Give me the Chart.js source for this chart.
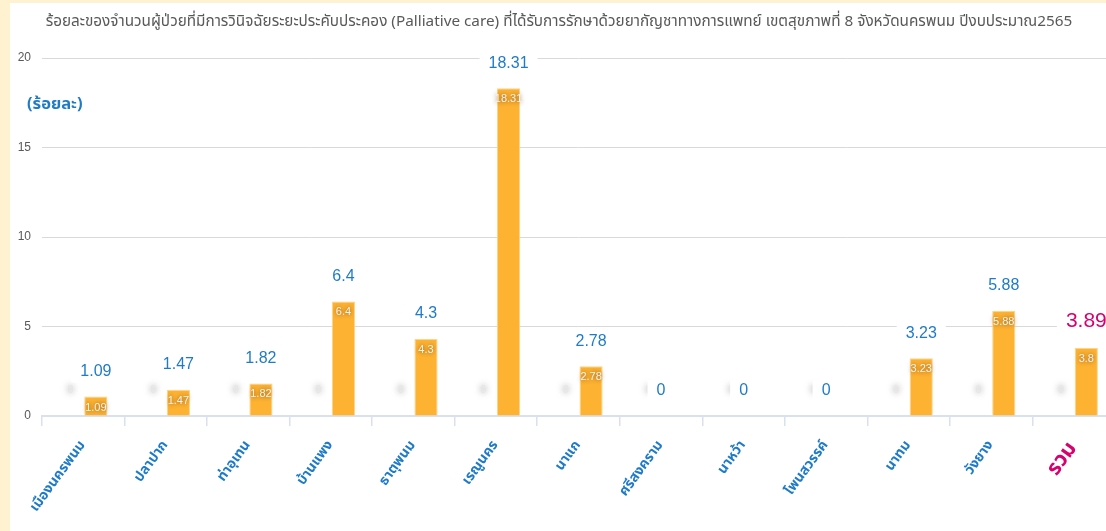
<!DOCTYPE html>
<html>
<head>
<meta charset="utf-8">
<script src="https://cdn.jsdelivr.net/npm/chart.js@4.4.1/dist/chart.umd.min.js"></script>
<style>
  html, body { margin: 0; padding: 0; width: 1106px; height: 531px; overflow: hidden; background: #FEF2D0; }
  #wrap { position: absolute; left: 10px; top: 3px; width: 1110px; height: 528px; background: #ffffff; }
  #unit { position: absolute; left: 17px; top: 88px; font: bold 16.5px 'Noto Sans Thai', 'Noto Sans', sans-serif; color: #1F7BC8; }
</style>
</head>
<body>
<div id="wrap"><canvas id="c"></canvas><div id="unit">(ร้อยละ)</div></div>
<script>
const titleText = 'ร้อยละของจำนวนผู้ป่วยที่มีการวินิจฉัยระยะประคับประคอง (Palliative care) ที่ได้รับการรักษาด้วยยากัญชาทางการแพทย์ เขตสุขภาพที่ 8 จังหวัดนครพนม ปีงบประมาณ2565';
const categories = ['เมืองนครพนม', 'ปลาปาก', 'ท่าอุเทน', 'บ้านแพง', 'ธาตุพนม', 'เรณูนคร', 'นาแก', 'ศรีสงคราม', 'นาหว้า', 'โพนสวรรค์', 'นาทม', 'วังยาง', 'รวม'];
const blankSeries = [0, 0, 0, 0, 0, 0, 0, 0, 0, 0, 0, 0, 0];
const barValues = [1.09, 1.47, 1.82, 6.4, 4.3, 18.31, 2.78, 0, 0, 0, 3.23, 5.88, 3.8];
const topLabels = [1.09, 1.47, 1.82, 6.4, 4.3, 18.31, 2.78, 0, 0, 0, 3.23, 5.88, 3.89];
const yTicks = [0, 5, 10, 15, 20];

const FONT = "'Noto Sans Thai', 'Noto Sans', sans-serif";
const NUMFONT = "'Liberation Sans Narrow', 'Liberation Sans', sans-serif";
const BLUE = '#1F7BC8';
const MAGENTA = '#D6006F';

const labelPlugin = {
  id: 'labels',
  afterDatasetsDraw(chart) {
    const ctx = chart.ctx;
    const x = chart.scales.x, y = chart.scales.y;
    const m0 = chart.getDatasetMeta(0), m1 = chart.getDatasetMeta(1);
    ctx.save();
    ctx.textAlign = 'center';
    ctx.textBaseline = 'middle';
    // grey zero labels of the empty series
    blankSeries.forEach((v, i) => {
      const bx = m0.data[i].x;
      const by = y.getPixelForValue(v) - 26;
      ctx.save();
      ctx.shadowColor = 'rgba(0,0,0,0.6)';
      ctx.shadowBlur = 6;
      ctx.fillStyle = '#e6e6e6';
      ctx.font = '11px ' + NUMFONT;
      ctx.fillText(String(v), bx, by);
      ctx.restore();
    });
    // labels inside bars
    barValues.forEach((v, i) => {
      if (v === 0) return;
      const el = m1.data[i];
      ctx.save();
      ctx.shadowColor = 'rgba(110,60,0,0.9)';
      ctx.shadowBlur = 4;
      ctx.fillStyle = '#f4f4f4';
      ctx.font = '11px ' + NUMFONT;
      ctx.fillText(String(v), el.x, el.y + 11);
      ctx.restore();
    });
    // top labels with white boxes
    topLabels.forEach((v, i) => {
      const last = i === topLabels.length - 1;
      const bx = v === 0 ? x.getPixelForValue(i) : m1.data[i].x;
      const by = y.getPixelForValue(v) - 25;
      ctx.font = (last ? '21px ' : '16px ') + NUMFONT;
      const w = ctx.measureText(String(v)).width;
      ctx.fillStyle = '#ffffff';
      ctx.fillRect(bx - w / 2 - 9, by - 11, w + 18, 22);
      ctx.fillStyle = last ? MAGENTA : BLUE;
      ctx.fillText(String(v), bx, by);
    });
    ctx.restore();
  }
};

const titlePlugin = {
  id: 'titleText',
  afterDraw(chart) {
    const ctx = chart.ctx;
    ctx.save();
    ctx.font = '15.3px ' + FONT;
    ctx.fillStyle = '#595959';
    ctx.textAlign = 'center';
    ctx.textBaseline = 'middle';
    ctx.fillText(titleText, 549, 20);
    ctx.restore();
  }
};

new Chart(document.getElementById('c'), {
  type: 'bar',
  data: {
    labels: categories,
    datasets: [
      { data: blankSeries, backgroundColor: '#A5A5A5', categoryPercentage: 0.61, barPercentage: 0.92 },
      { data: barValues, backgroundColor: '#FDB232', borderColor: '#FFD486', borderWidth: 1, categoryPercentage: 0.61, barPercentage: 0.92 }
    ]
  },
  options: {
    responsive: true,
    maintainAspectRatio: false,
    animation: false,
    layout: { padding: { top: 55, right: 5, left: 0, bottom: 0 } },
    plugins: { legend: { display: false }, tooltip: { enabled: false }, title: { display: false } },
    scales: {
      x: {
        offset: true,
        grid: { display: true, drawOnChartArea: false, drawTicks: true, tickLength: 10, offset: true, color: '#D9E1EE', lineWidth: 1.5 },
        border: { display: true, color: '#D9E1EE', width: 2 },
        ticks: {
          minRotation: 54, maxRotation: 54, autoSkip: false, padding: 12,
          color: ctx => ctx.index === categories.length - 1 ? MAGENTA : BLUE,
          font: ctx => ctx.index === categories.length - 1 ? { size: 21, weight: 'bold', family: FONT } : { size: 14, weight: 'bold', family: FONT }
        },
        afterFit: s => { s.height = 115; }
      },
      y: {
        min: 0, max: 20,
        afterBuildTicks: s => { s.ticks = yTicks.map(v => ({ value: v })); },
        grid: { color: '#D9D9D9', drawTicks: false, lineWidth: 1 },
        border: { display: false },
        ticks: { padding: 11, color: '#595959', font: { size: 12, family: NUMFONT } },
        afterFit: s => { s.width = 32; }
      }
    }
  },
  plugins: [labelPlugin, titlePlugin]
});
</script>
</body>
</html>
